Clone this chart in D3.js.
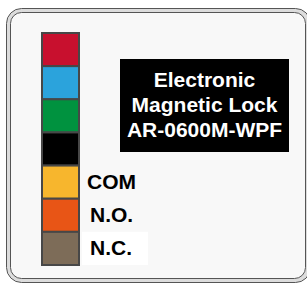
<!DOCTYPE html>
<html>
<head>
<meta charset="utf-8">
<script src="https://cdn.jsdelivr.net/npm/d3@7"></script>
<style>
  body { margin: 0; background: #ffffff; }
  svg { display: block; }
</style>
</head>
<body>
<script>
// wire colours, top to bottom, and their labels
var wireColors = ["#c8102e", "#2ba3dc", "#00923f", "#000000", "#f7b62d", "#e85516", "#7d6c58"];
var wireLabels = ["", "", "", "", "COM", "N.O.", "N.C."];
var titleLines = ["Electronic", "Magnetic Lock", "AR-0600M-WPF"];

var svgWidth = 307;
var svgHeight = 284;
var font = "'Liberation Sans', Arial, sans-serif";

var svg = d3.select("body").append("svg")
  .attr("width", svgWidth)
  .attr("height", svgHeight);

// frame: outer line, grey band, inner line
svg.append("rect")
  .attr("x", 6.5).attr("y", 8.5)
  .attr("width", 304).attr("height", 274)
  .attr("rx", 15).attr("ry", 15)
  .attr("fill", "#dcdcdc")
  .attr("stroke", "#555")
  .attr("stroke-width", 1);

svg.append("rect")
  .attr("x", 10.5).attr("y", 12.5)
  .attr("width", 295).attr("height", 266)
  .attr("rx", 11).attr("ry", 11)
  .attr("fill", "#f8f8f8")
  .attr("stroke", "#555")
  .attr("stroke-width", 1);

var y = d3.scaleBand()
  .domain(d3.range(wireColors.length))
  .range([33, 265])
  .padding(0);

// white patch behind the last label
svg.append("rect")
  .attr("x", 82)
  .attr("y", y(6))
  .attr("width", 66)
  .attr("height", y.bandwidth())
  .attr("fill", "#ffffff");

svg.selectAll("rect.wire").data(wireColors).enter()
  .append("rect")
  .attr("class", "wire")
  .attr("x", 42)
  .attr("y", function(d, i) { return y(i); })
  .attr("width", 37)
  .attr("height", y.bandwidth())
  .attr("fill", function(d) { return d; })
  .attr("stroke", "#474747")
  .attr("stroke-width", 2);

svg.selectAll("text.wire").data(wireLabels).enter()
  .append("text")
  .attr("class", "wire")
  .attr("x", function(d, i) { return i == 4 ? 87 : 90; })
  .attr("y", function(d, i) { return y(i) + y.bandwidth() / 2 + 7; })
  .attr("font-family", font)
  .attr("font-weight", "bold")
  .attr("font-size", "21px")
  .attr("fill", "#000")
  .text(function(d) { return d; });

// title box
svg.append("rect")
  .attr("x", 120).attr("y", 59)
  .attr("width", 169).attr("height", 93)
  .attr("fill", "#000");

svg.selectAll("text.title").data(titleLines).enter()
  .append("text")
  .attr("class", "title")
  .attr("x", 204.5)
  .attr("y", function(d, i) { return 86.5 + i * 25.3; })
  .attr("text-anchor", "middle")
  .attr("font-family", font)
  .attr("font-weight", "bold")
  .attr("font-size", "21px")
  .attr("fill", "#fff")
  .text(function(d) { return d; });
</script>
</body>
</html>
